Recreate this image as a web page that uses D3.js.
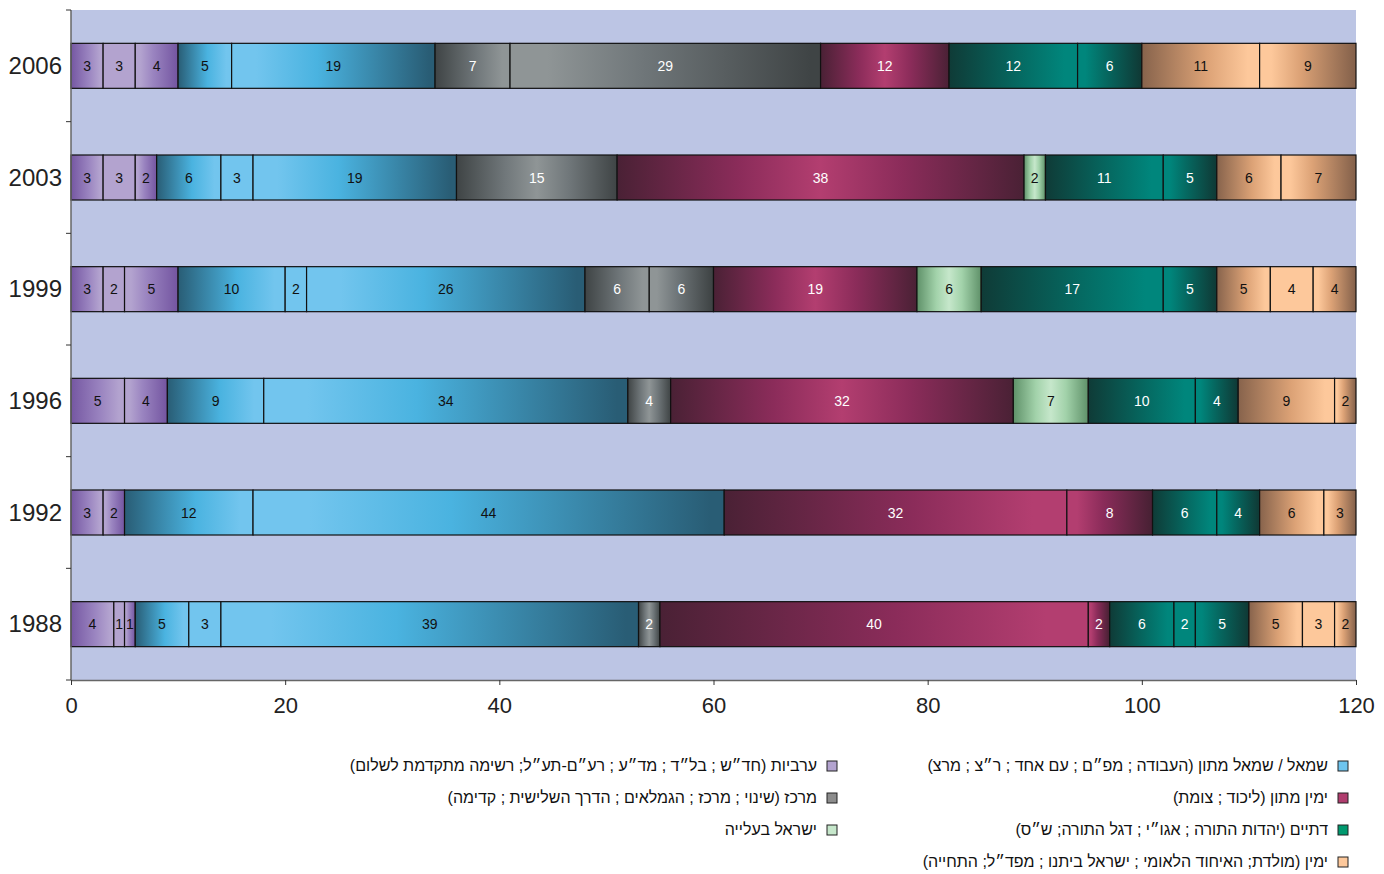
<!DOCTYPE html>
<html><head><meta charset="utf-8">
<script src="https://cdn.jsdelivr.net/npm/d3@7/dist/d3.min.js"></script>
<style>
html,body{margin:0;padding:0;background:#fff;}
svg{display:block;font-family:"Liberation Sans",Arial,sans-serif;}
</style></head><body>
<svg id="chart" width="1384" height="874"></svg>
<script>
// ---- data ----
const years = ["2006","2003","1999","1996","1992","1988"];
const v2006 = [3,3,4,5,19,7,29,12,12,6,11,9];
const g2006 = ["A","A","A","L","L","C","C","M","R","R","N","N"];
const v2003 = [3,3,2,6,3,19,15,38,2,11,5,6,7];
const g2003 = ["A","A","A","L","L","L","C","M","Y","R","R","N","N"];
const v1999 = [3,2,5,10,2,26,6,6,19,6,17,5,5,4,4];
const g1999 = ["A","A","A","L","L","L","C","C","M","Y","R","R","N","N","N"];
const v1996 = [5,4,9,34,4,32,7,10,4,9,2];
const g1996 = ["A","A","L","L","C","M","Y","R","R","N","N"];
const v1992 = [3,2,12,44,32,8,6,4,6,3];
const g1992 = ["A","A","L","L","M","M","R","R","N","N"];
const v1988 = [4,1,1,5,3,39,2,40,2,6,2,5,5,3,2];
const g1988 = ["A","A","A","L","L","L","C","M","M","R","R","R","N","N","N"];
const xTicks = [0,20,40,60,80,100,120];

const groupKeys = ["L","A","M","C","R","Y","N"];
const legendLabels = {
  L:"שמאל / שמאל מתון (העבודה ; מפ״ם ; עם אחד ; ר״צ ; מרצ)",
  A:"ערביות (חד״ש ; בל״ד ; מד״ע ; רע״ם-תע״ל; רשימה מתקדמת לשלום)",
  M:"ימין מתון (ליכוד ; צומת)",
  C:"מרכז (שינוי ; מרכז ; הגמלאים ; הדרך השלישית ; קדימה)",
  R:"דתיים (יהדות התורה ; אגו״י ; דגל התורה; ש״ס)",
  Y:"ישראל בעלייה",
  N:"ימין (מולדת; האיחוד הלאומי ; ישראל ביתנו ; מפד״ל; התחייה)"
};

// ---- styles ----
const pal = {
  A:{dark:"#7557a2",mid:"#9a84c0",light:"#b3a3cf",swatch:"#b3a3cf",txt:"#111"},
  L:{dark:"#295d75",mid:"#4ab3e0",light:"#72c5ee",swatch:"#6ec4ee",txt:"#111"},
  C:{dark:"#3f4445",mid:"#70777a",light:"#8f9596",swatch:"#8c8c8c",txt:"#fff"},
  M:{dark:"#4a2135",mid:"#8b2c5a",light:"#b33e70",swatch:"#b03d6e",txt:"#fff"},
  Y:{dark:"#5f9169",mid:"#a2d2aa",light:"#c6e7cb",swatch:"#c6e7cb",txt:"#111"},
  R:{dark:"#0f3b37",mid:"#056a62",light:"#00867c",swatch:"#00996f",txt:"#fff"},
  N:{dark:"#87634c",mid:"#dca276",light:"#fdc89b",swatch:"#fdc89b",txt:"#111"}
};

const bars = [
  {year:"2006",v:v2006,g:g2006},{year:"2003",v:v2003,g:g2003},
  {year:"1999",v:v1999,g:g1999},{year:"1996",v:v1996,g:g1996},
  {year:"1992",v:v1992,g:g1992},{year:"1988",v:v1988,g:g1988}
];

const svg = d3.select("#chart");
const plot = {left:71,right:1356,top:10,bottom:680};
const x = d3.scaleLinear().domain([0,120]).range([plot.left,plot.right]);
const y = d3.scaleBand().domain(years).range([plot.top,plot.bottom]).padding(0);
const barH = 45;

// gradients
const defs = svg.append("defs");
const gradStops = {
  first:[[0,"dark"],[0.55,"mid"],[0.9,"light"],[1,"light"]],
  last:[[0,"light"],[0.12,"light"],[0.42,"mid"],[0.97,"dark"],[1,"dark"]],
  single:[[0,"dark"],[0.3,"mid"],[0.5,"light"],[0.7,"mid"],[1,"dark"]]
};
groupKeys.forEach(k=>{
  Object.keys(gradStops).forEach(t=>{
    const lg = defs.append("linearGradient").attr("id",`g_${k}_${t}`)
      .attr("x1","0").attr("x2","1").attr("y1","0").attr("y2","0");
    gradStops[t].forEach(([o,c])=>lg.append("stop").attr("offset",o).attr("stop-color",pal[k][c]));
  });
});

// background
svg.append("rect").attr("x",plot.left).attr("y",plot.top)
  .attr("width",plot.right-plot.left).attr("height",plot.bottom-plot.top)
  .attr("fill","#bcc5e4");

// segments
bars.forEach(b=>{
  let acc = 0;
  const segs = b.v.map((val,i)=>{
    const prev = i>0 ? b.g[i-1] : null, next = i<b.v.length-1 ? b.g[i+1] : null;
    const g = b.g[i];
    let type;
    if(prev!==g && next!==g) type="single";
    else if(prev!==g) type="first";
    else if(next!==g) type="last";
    else type="middle";
    const s = {x0:acc,x1:acc+val,val,g,type};
    acc += val;
    return s;
  });
  const gy = y(b.year) + y.bandwidth()/2 - barH/2;
  const grp = svg.append("g");
  grp.selectAll("rect").data(segs).join("rect")
    .attr("x",d=>x(d.x0)).attr("y",gy)
    .attr("width",d=>x(d.x1)-x(d.x0)).attr("height",barH)
    .attr("fill",d=>d.type==="middle"?pal[d.g].light:`url(#g_${d.g}_${d.type})`)
    .attr("stroke","#111").attr("stroke-width",1.2);
  grp.selectAll("text").data(segs).join("text")
    .attr("x",d=>(x(d.x0)+x(d.x1))/2).attr("y",gy+barH/2+5)
    .attr("text-anchor","middle").attr("font-size",14)
    .attr("fill",d=>pal[d.g].txt).text(d=>d.val);
});

// x axis
const xAxis = svg.append("g").attr("transform",`translate(0,${plot.bottom})`)
  .call(d3.axisBottom(x).tickValues(xTicks).tickSize(5).tickSizeOuter(0).tickFormat(d3.format("d")));
xAxis.select(".domain").attr("stroke","#666").attr("stroke-width",1.5);
xAxis.selectAll(".tick line").attr("stroke","#333");
xAxis.selectAll(".tick text").attr("font-size",22).attr("fill","#222").attr("dy","1.15em")
  .attr("font-family","'Liberation Sans',Arial,sans-serif");

// y axis
const yAxisG = svg.append("g");
yAxisG.append("line").attr("x1",plot.left).attr("x2",plot.left)
  .attr("y1",plot.top).attr("y2",plot.bottom).attr("stroke","#666").attr("stroke-width",1.5);
const bounds = years.map(yr=>y(yr)).concat([plot.bottom]);
yAxisG.selectAll("line.tk").data(bounds).join("line").attr("class","tk")
  .attr("x1",plot.left-5).attr("x2",plot.left).attr("y1",d=>d).attr("y2",d=>d)
  .attr("stroke","#333");
yAxisG.selectAll("text").data(years).join("text")
  .attr("x",62).attr("y",d=>y(d)+y.bandwidth()/2+8)
  .attr("text-anchor","end").attr("font-size",24).attr("fill","#222").text(d=>d);

// legend
const legendPos = {
  L:{x:1328,y:766}, M:{x:1328,y:798}, R:{x:1328,y:830}, N:{x:1328,y:862},
  A:{x:817,y:766}, C:{x:817,y:798}, Y:{x:817,y:830}
};
const leg = svg.append("g");
groupKeys.forEach(k=>{
  const p = legendPos[k];
  leg.append("rect").attr("x",p.x+10).attr("y",p.y-5).attr("width",10).attr("height",10)
    .attr("fill",pal[k].swatch).attr("stroke","#222").attr("stroke-width",1);
  leg.append("text").attr("x",p.x).attr("y",p.y+5).attr("text-anchor","end")
    .attr("font-size",16).attr("fill","#111")
    .text("\u200F"+legendLabels[k]+"\u200F");
});
</script>
</body></html>
